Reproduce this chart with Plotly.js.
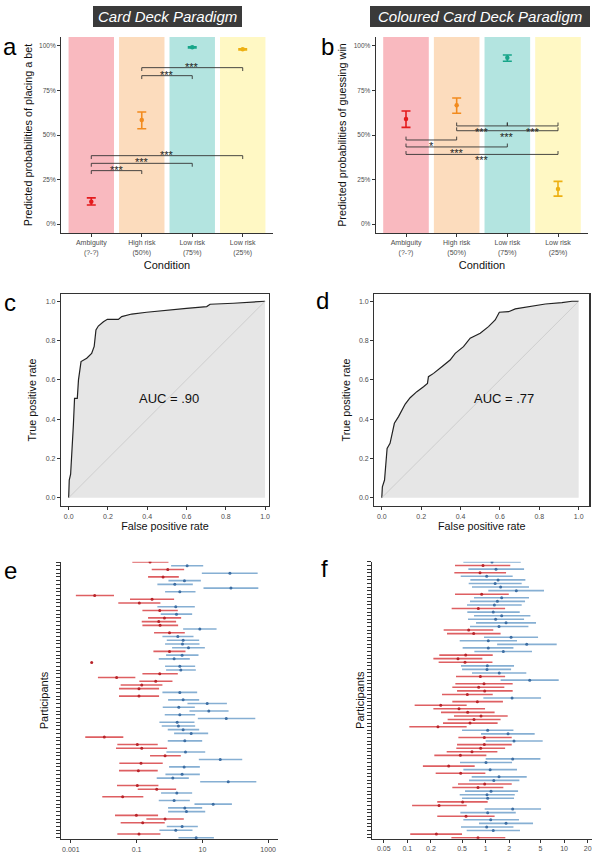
<!DOCTYPE html>
<html><head><meta charset="utf-8">
<script src="https://cdn.plot.ly/plotly-3.0.1.min.js"></script>
<style>html,body{margin:0;padding:0;background:#fff}#chart{width:595px;height:857px}</style>
</head><body><div id="chart"></div>
<script>
// ---------------- Panels a & b : predicted probabilities ----------------
const conditions = ['Ambiguity<br>(?-?)', 'High risk<br>(50%)', 'Low risk<br>(75%)', 'Low risk<br>(25%)'];
const condFill  = ['#F9B9BF', '#FCDCBD', '#B3E4E0', '#FFF8C4'];
const condColor = ['#E41A1C', '#F28B1E', '#17A589', '#EDB012'];

const betEst = [0.125, 0.584, 0.992, 0.981];
const betLo  = [0.107, 0.535, 0.989, 0.978];
const betHi  = [0.147, 0.629, 0.995, 0.984];

const guessEst = [0.590, 0.667, 0.933, 0.197];
const guessLo  = [0.543, 0.622, 0.914, 0.157];
const guessHi  = [0.635, 0.708, 0.949, 0.240];

const pctTicks = [0, 0.25, 0.5, 0.75, 1];
const pctLabels = ['0%', '25%', '50%', '75%', '100%'];

// significance brackets (condition index from / to, height, label)
const betBrFrom = [1, 1, 0, 0, 0];
const betBrTo   = [3, 2, 3, 2, 1];
const betBrY    = [0.878, 0.833, 0.384, 0.341, 0.300];
const betBrLab  = ['***', '***', '***', '***', '***'];

const guessBrFrom = [1, 2, 1, 0, 0, 0];
const guessBrTo   = [2, 3, 3, 1, 2, 3];
const guessBrY    = [0.551, 0.551, 0.524, 0.472, 0.433, 0.391];
const guessBrLab  = ['***', '***', '***', '*', '***', '***'];

// ---------------- Panels c & d : ROC curves ----------------
const rocC_fpr = [0, 0.003, 0.01, 0.017, 0.024, 0.03, 0.044, 0.05, 0.058, 0.063, 0.092, 0.117, 0.13, 0.139, 0.151, 0.177, 0.197, 0.253, 0.27, 0.321, 0.397, 0.5, 0.6, 0.703, 0.72, 0.839, 0.941, 1];
const rocC_tpr = [0, 0.09, 0.12, 0.226, 0.37, 0.506, 0.506, 0.6, 0.667, 0.693, 0.71, 0.735, 0.77, 0.854, 0.874, 0.896, 0.908, 0.908, 0.922, 0.935, 0.944, 0.956, 0.964, 0.973, 0.985, 0.99, 0.995, 1];
const rocD_fpr = [0, 0.003, 0.014, 0.02, 0.027, 0.042, 0.054, 0.064, 0.085, 0.098, 0.119, 0.144, 0.178, 0.212, 0.232, 0.237, 0.263, 0.305, 0.347, 0.373, 0.415, 0.449, 0.5, 0.542, 0.576, 0.597, 0.644, 0.678, 0.746, 0.831, 0.915, 0.966, 1];
const rocD_tpr = [0, 0.056, 0.09, 0.158, 0.251, 0.277, 0.336, 0.379, 0.413, 0.438, 0.477, 0.509, 0.54, 0.565, 0.582, 0.616, 0.633, 0.667, 0.701, 0.735, 0.769, 0.812, 0.837, 0.871, 0.905, 0.944, 0.947, 0.961, 0.973, 0.986, 0.993, 1, 1];
const aucC = 'AUC = .90';
const aucD = 'AUC = .77';
const rateTicks = [0, 0.2, 0.4, 0.6, 0.8, 1.0];

// ---------------- Panels e & f : per-participant odds ratios ----------------
const eGroup = ['R','B','R','B','R','B','B','B','B','R', 'R','R','B','R','B','R','R','R','B','R',
                'B','B','B','B','R','B','B','R','B','B', 'R','R','R','R','R','B','R','B','B','B',
                'B','B','B','B','B','B','B','R','B','R', 'R','B','R','B','R','B','R','B','B','B',
                'R','R','B','R','B','B','B','B','R','R', 'R','B','B','R','B'];
const eEst = [0.256, 3.44, 0.885, 68.8, 0.638, 2.85, 1.45, 73.8, 2.06, 0.0053,
              0.295, 0.121, 1.55, 0.505, 1.63, 0.701, 0.471, 0.517, 8.37, 1.0,
              1.79, 2.60, 2.48, 3.78, 1.0, 2.42, 1.38, 0.0043, 2.06, 2.21,
              0.505, 0.0247, 0.381, 0.143, 0.118, 2.06, 0.118, 2.60, 14.0, 1.92,
              15.7, 2.06, 53.2, 1.71, 1.87, 2.60, 4.56, 0.0104, 2.92, 0.105,
              0.143, 3.06, 0.734, 34.9, 0.136, 2.79, 0.113, 2.42, 1.26, 61.2,
              0.105, 0.409, 1.67, 0.0376, 1.38, 21.3, 2.92, 3.28, 0.0982, 0.734,
              0.153, 2.42, 1.55, 0.118, 6.47];
const eLo  = [0.074, 1.12, 0.288, 9.63, 0.223, 0.93, 0.428, 10.8, 0.734, 0.00142,
              0.0629, 0.0277, 0.428, 0.150, 0.542, 0.223, 0.143, 0.150, 2.60, 0.339,
              0.609, 0.826, 0.734, 1.20, 0.324, 0.788, 0.471, 0.0043, 0.734, 0.788,
              0.150, 0.00665, 0.121, 0.0327, 0.0291, 0.609, 0.0291, 0.906, 3.52, 0.623,
              4.05, 0.717, 7.27, 0.493, 0.581, 0.885, 1.38, 0.00274, 0.885, 0.0259,
              0.0236, 0.807, 0.256, 7.80, 0.0298, 0.972, 0.0291, 0.752, 0.409, 8.57,
              0.0253, 0.108, 0.554, 0.00902, 0.471, 5.75, 0.906, 0.906, 0.0220, 0.198,
              0.0327, 0.826, 0.493, 0.0259, 1.87];
const eHi  = [0.93, 10.6, 2.79, 480, 1.92, 8.98, 5.12, 503, 6.18, 0.0205,
              1.38, 0.529, 5.89, 1.79, 4.89, 2.26, 1.59, 1.83, 27.0, 2.92,
              5.37, 7.99, 8.18, 11.9, 3.06, 7.62, 4.15, 0.0043, 6.03, 6.32,
              1.79, 0.0915, 1.23, 0.609, 0.482, 6.94, 0.482, 7.99, 55.7, 5.89,
              62.6, 6.03, 407, 5.75, 6.03, 7.99, 15.0, 0.0394, 9.86, 0.439,
              0.845, 12.2, 2.21, 163, 0.623, 8.37, 0.439, 8.37, 3.87, 437,
              0.460, 1.59, 4.89, 0.160, 4.15, 79.1, 9.86, 12.2, 0.449, 2.72,
              0.717, 7.27, 5.00, 0.529, 22.4];
const eTickVals = [0.001, 0.1, 10, 1000];
const eTickText = ['0.001', '0.1', '10', '1000'];

const fGroup = ['B','R','B','R','B','B','B','B','B','R', 'B','B','B','R','B','B','B','B','B','R',
                'R','B','B','B','B','B','R','R','R','B', 'B','B','R','B','R','R','R','R','B','R',
                'R','R','R','R','R','R','R','B','B','R', 'B','R','R','R','R','B','B','R','B','R',
                'B','B','R','R','B','B','B','R','R','B', 'B','R','B','B','B','B','R','R'];
const fEst = [1.205, 0.925, 1.355, 0.847, 1.03, 1.44, 1.32, 1.55, 2.46, 0.889,
              1.60, 1.41, 1.29, 0.806, 1.25, 1.60, 1.34, 1.82, 1.48, 0.607,
              0.703, 2.11, 1.08, 3.34, 1.08, 1.68, 0.556, 0.443, 0.545, 1.05,
              1.04, 1.49, 0.855, 3.65, 0.952, 0.814, 0.971, 0.583, 2.17, 0.783,
              0.267, 0.457, 0.589, 0.872, 0.710, 0.631, 0.246, 1.06, 1.93, 0.961,
              2.30, 0.961, 0.863, 0.669, 0.475, 2.21, 1.01, 0.337, 1.14, 0.480,
              1.48, 1.27, 0.971, 0.798, 1.17, 1.04, 1.06, 0.508, 0.254, 2.21,
              1.06, 0.561, 1.16, 1.82, 1.03, 1.25, 0.235, 0.798];
const fLo  = [0.519, 0.406, 0.601, 0.398, 0.480, 0.637, 0.607, 0.669, 1.08, 0.406,
              0.710, 0.631, 0.578, 0.368, 0.583, 0.710, 0.595, 0.753, 0.631, 0.291,
              0.321, 0.952, 0.466, 1.40, 0.508, 0.717, 0.256, 0.215, 0.251, 0.484,
              0.499, 0.669, 0.418, 1.55, 0.410, 0.375, 0.431, 0.277, 0.934, 0.375,
              0.124, 0.215, 0.269, 0.394, 0.327, 0.285, 0.106, 0.499, 0.872, 0.448,
              1.0, 0.431, 0.422, 0.318, 0.221, 1.0, 0.470, 0.158, 0.519, 0.230,
              0.663, 0.613, 0.443, 0.375, 0.545, 0.466, 0.499, 0.241, 0.115, 0.971,
              0.475, 0.241, 0.519, 0.822, 0.484, 0.572, 0.109, 0.365];
const fHi  = [2.80, 2.06, 3.09, 1.82, 2.21, 3.21, 2.88, 3.57, 5.55, 1.97,
              3.57, 3.18, 2.88, 1.77, 2.72, 3.72, 3.09, 4.39, 3.51, 1.25,
              1.55, 4.66, 2.51, 8.06, 2.26, 3.90, 1.23, 0.907, 1.22, 2.30,
              2.11, 3.30, 1.77, 8.55, 2.21, 1.73, 2.21, 1.23, 5.09, 1.66,
              0.572, 0.981, 1.30, 1.91, 1.55, 1.42, 0.572, 2.26, 4.22, 2.15,
              5.34, 2.15, 1.77, 1.41, 1.02, 4.99, 2.17, 0.724, 2.51, 0.990,
              3.34, 2.69, 2.15, 1.68, 2.59, 2.35, 2.30, 1.06, 0.572, 5.09,
              2.42, 1.30, 2.66, 4.02, 2.26, 2.74, 0.499, 1.78];
const fTickVals = [0.05, 0.1, 0.2, 0.5, 1, 2, 5, 10, 20];
const fTickText = ['0.05', '0.1', '0.2', '0.5', '1', '2', '5', '10', '20'];

// ---------------- styling ----------------
const FONT = 'Arial, "Liberation Sans", Helvetica, sans-serif';
const AX = '#333333';
const TICKTXT = '#4d4d4d';
const lineRed = '#DE5F62', dotRed = '#B8242A';
const lineBlue = '#86AFD3', dotBlue = '#3D6EA3';
const W = 595, H = 857;
const px = v => v / W;
const py = v => 1 - v / H;

const traces = [];
const shapes = [];
const annotations = [];

// --- a & b
function probPanel(est, lo, hi, brFrom, brTo, brY, brLab, xa, ya, tipDir) {
  conditions.forEach((c, i) => {
    shapes.push({type: 'rect', xref: xa, yref: ya + ' domain', x0: i - 0.45, x1: i + 0.45, y0: 0, y1: 1,
                 fillcolor: condFill[i], line: {width: 0}, layer: 'below'});
    traces.push({type: 'scatter', mode: 'markers', xaxis: xa, yaxis: ya, x: [i], y: [est[i]],
      marker: {size: 4.5, color: condColor[i]},
      error_y: {type: 'data', symmetric: false, array: [hi[i] - est[i]], arrayminus: [est[i] - lo[i]],
                color: condColor[i], thickness: 1.6, width: 4.5},
      hoverinfo: 'skip', showlegend: false});
  });
  const tip = 0.019 * tipDir;
  brFrom.forEach((f, k) => {
    const t = brTo[k], y = brY[k];
    traces.push({type: 'scatter', mode: 'lines', xaxis: xa, yaxis: ya,
      x: [f, f, t, t], y: [y + tip, y, y, y + tip],
      line: {color: AX, width: 0.9}, hoverinfo: 'skip', showlegend: false});
    annotations.push({xref: xa, yref: ya, x: (f + t) / 2, y: y, text: brLab[k], showarrow: false,
      font: {family: FONT, size: 11, color: '#222'},
      yanchor: tipDir < 0 ? 'bottom' : 'top', yshift: tipDir < 0 ? -7 : 2});
  });
}
probPanel(betEst, betLo, betHi, betBrFrom, betBrTo, betBrY, betBrLab, 'x', 'y', -1);
probPanel(guessEst, guessLo, guessHi, guessBrFrom, guessBrTo, guessBrY, guessBrLab, 'x2', 'y2', 1);

// --- c & d
function rocPanel(fpr, tpr, xa, ya) {
  traces.push({type: 'scatter', mode: 'lines', xaxis: xa, yaxis: ya, x: fpr, y: tpr,
    fill: 'tozeroy', fillcolor: '#E6E6E6', line: {color: '#222', width: 1.2},
    hoverinfo: 'skip', showlegend: false});
  traces.push({type: 'scatter', mode: 'lines', xaxis: xa, yaxis: ya, x: [0, 1], y: [0, 1],
    line: {color: '#C8C8C8', width: 0.8}, hoverinfo: 'skip', showlegend: false});
}
rocPanel(rocC_fpr, rocC_tpr, 'x3', 'y3');
rocPanel(rocD_fpr, rocD_tpr, 'x4', 'y4');
annotations.push({xref: 'x3', yref: 'y3', x: 0.51, y: 0.506, text: aucC, showarrow: false,
  font: {family: FONT, size: 13, color: '#111'}});
annotations.push({xref: 'x4', yref: 'y4', x: 0.62, y: 0.506, text: aucD, showarrow: false,
  font: {family: FONT, size: 13, color: '#111'}});

// --- e & f
function forest(groups, est, lo, hi, xa, ya) {
  [['R', lineRed, dotRed], ['B', lineBlue, dotBlue]].forEach(([g, lc, mc]) => {
    const idx = groups.map((v, i) => v === g ? i : -1).filter(i => i >= 0);
    traces.push({type: 'scatter', mode: 'markers', xaxis: xa, yaxis: ya,
      x: idx.map(i => est[i]), y: idx.map(i => i + 1),
      error_x: {type: 'data', symmetric: false, array: idx.map(i => hi[i] - est[i]),
                arrayminus: idx.map(i => est[i] - lo[i]), color: lc, thickness: 1.6, width: 0},
      marker: {size: 3, color: mc}, hoverinfo: 'skip', showlegend: false});
  });
}
forest(eGroup, eEst, eLo, eHi, 'x5', 'y5');
forest(fGroup, fEst, fLo, fHi, 'x6', 'y6');

// --- header boxes
function header(x0, x1, text) {
  shapes.push({type: 'rect', xref: 'paper', yref: 'paper', x0: px(x0), x1: px(x1), y0: py(27), y1: py(6),
               fillcolor: '#3A3A3A', line: {width: 0}});
  annotations.push({xref: 'paper', yref: 'paper', x: px((x0 + x1) / 2), y: py(16.5), text: '<i>' + text + '</i>',
    showarrow: false, xanchor: 'center', yanchor: 'middle', font: {family: FONT, size: 15, color: '#FFFFFF'}});
}
header(93, 242, 'Card Deck Paradigm');
header(370, 590, 'Coloured Card Deck Paradigm');

// --- panel letters
[['a', 10, 47], ['b', 327, 47], ['c', 10, 303], ['d', 322, 300], ['e', 10, 570], ['f', 324, 568]].forEach(([t, x, y]) => {
  annotations.push({xref: 'paper', yref: 'paper', x: px(x), y: py(y), text: t, showarrow: false,
    xanchor: 'center', yanchor: 'middle', font: {family: FONT, size: 24, color: '#000'}});
});

// --- axes
const base = {showgrid: false, zeroline: false, showline: true, linecolor: AX, linewidth: 1,
              ticks: 'outside', tickcolor: AX, ticklen: 3, tickwidth: 1, automargin: false, fixedrange: true};
const tf = (s) => ({family: FONT, size: s, color: TICKTXT});
const tt = (text, s, so) => ({text: text, font: {family: FONT, size: s, color: '#111'}, standoff: so});

const catAxis = (dom, title) => Object.assign({}, base, {domain: dom, range: [-0.6, 3.6],
  tickvals: [0, 1, 2, 3], ticktext: conditions, tickfont: tf(7), title: tt(title, 11, 5)});
const pctAxis = (dom, title) => Object.assign({}, base, {domain: dom, range: [-0.05, 1.05],
  tickvals: pctTicks, ticktext: pctLabels, tickfont: tf(6.5), title: tt(title, 10.8, 4)});
const rateAxis = (dom, rng, title, so) => Object.assign({}, base, {domain: dom, range: rng, mirror: true, linewidth: 1.2,
  tickvals: rateTicks, ticktext: rateTicks.map(v => v.toFixed(1)), tickfont: tf(7), title: tt(title, 10.8, so)});

const layout = {
  width: W, height: H, margin: {l: 0, r: 0, t: 0, b: 0},
  paper_bgcolor: '#FFFFFF', plot_bgcolor: 'rgba(0,0,0,0)',
  font: {family: FONT}, showlegend: false,
  xaxis:  catAxis([px(61), px(273)], 'Condition'),
  yaxis:  pctAxis([py(233), py(37)], 'Predicted probabilities of placing a bet'),
  xaxis2: Object.assign(catAxis([px(375.6), px(588.4)], 'Condition'), {anchor: 'y2'}),
  yaxis2: Object.assign(pctAxis([py(233), py(37)], 'Predicted probabilities of guessing win'), {anchor: 'x2'}),
  xaxis3: Object.assign(rateAxis([px(61), px(269)], [-0.039, 1.02], 'False positive rate', 2), {anchor: 'y3'}),
  yaxis3: Object.assign(rateAxis([py(506), py(294)], [-0.042, 1.037], 'True positive rate', 6), {anchor: 'x3'}),
  xaxis4: Object.assign(rateAxis([px(374.3), px(589.3)], [-0.038, 1.054], 'False positive rate', 2), {anchor: 'y4'}),
  yaxis4: Object.assign(rateAxis([py(506), py(294)], [-0.042, 1.037], 'True positive rate', 6), {anchor: 'x4'}),
  xaxis5: Object.assign({}, base, {anchor: 'y5', domain: [px(61), px(278)], type: 'log', range: [-3.3, 3.3],
    tickvals: eTickVals, ticktext: eTickText, tickfont: tf(7)}),
  yaxis5: Object.assign({}, base, {anchor: 'x5', domain: [py(839.3), py(561.7)], range: [75.43, 0.92],
    tickvals: eEst.map((v, i) => i + 1), showticklabels: false, ticklen: 4, title: tt('Participants', 11, 5)}),
  xaxis6: Object.assign({}, base, {anchor: 'y6', domain: [px(372.3), px(591.7)], type: 'log', range: [-1.447, 1.353],
    tickvals: fTickVals, ticktext: fTickText, tickfont: tf(7)}),
  yaxis6: Object.assign({}, base, {anchor: 'x6', domain: [py(838.7), py(561.7)], range: [78.28, 0.92],
    tickvals: fEst.map((v, i) => i + 1), showticklabels: false, ticklen: 4, title: tt('Participants', 11, 0)}),
  shapes: shapes,
  annotations: annotations
};

Plotly.newPlot('chart', traces, layout, {displayModeBar: false, staticPlot: true});
</script>
</body></html>
